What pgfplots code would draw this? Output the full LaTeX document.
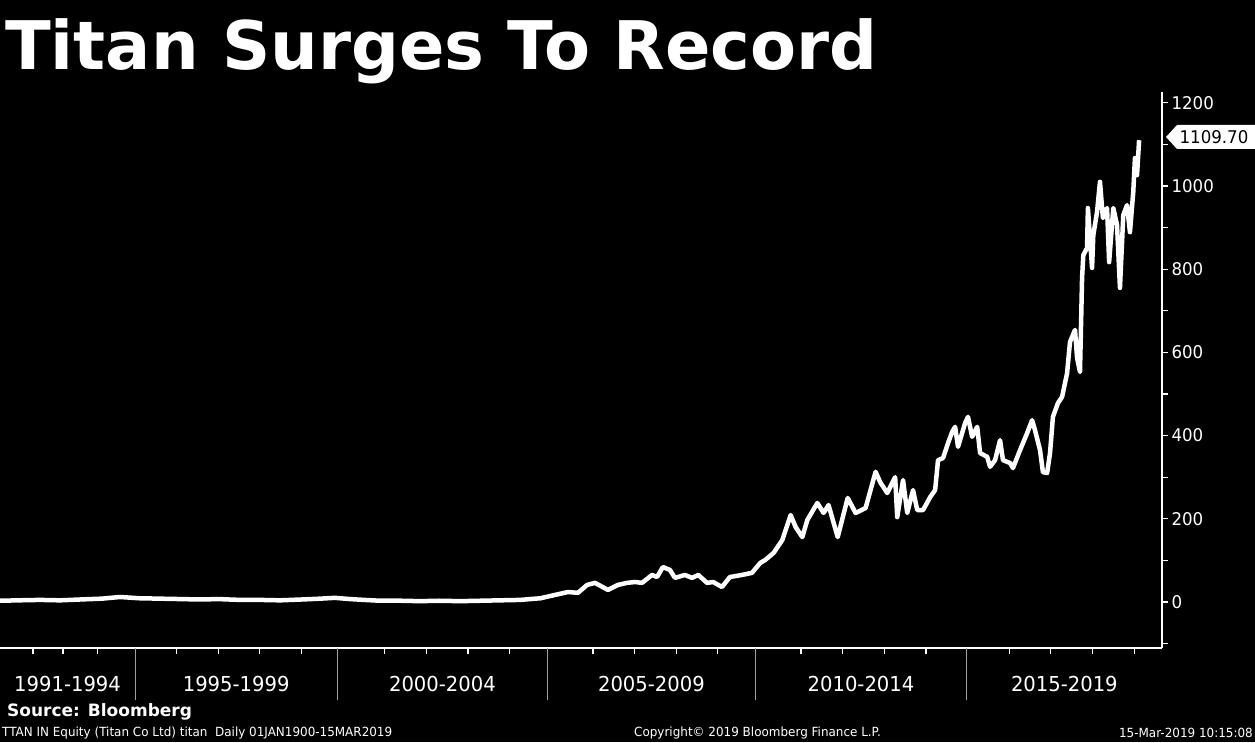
\documentclass[border=0pt]{standalone}
\usepackage{pgfplots}
\pgfplotsset{compat=1.18}
\usepackage{fontspec}
\setmainfont{DejaVu Sans}
\newfontfamily\cond[FakeStretch=0.95]{DejaVu Sans}
\begin{document}
\begin{tikzpicture}[x=1pt,y=1pt]
\useasboundingbox (0,0) rectangle (1255,742);
\fill[black] (0,0) rectangle (1255,742);
\begin{axis}[
 at={(0pt,94pt)}, anchor=south west,
 scale only axis, width=1162pt, height=556pt,
 xmin=1991.757, xmax=2019.67, ymin=-110.6, ymax=1225.9,
 axis x line=bottom, axis y line=right,
 axis line style={-, white, line width=1.2pt},
 clip=false,
 tick align=outside,
 major tick length=6pt, minor tick length=6pt,
 tick style={white, line width=1.2pt},
 xtick={1993.38,1997.43,2002.385,2007.405,2012.44,2017.325},
 xticklabels={1991-1994,1995-1999,2000-2004,2005-2009,2010-2014,2015-2019},
 major x tick style={draw=none},
 minor xtick={1992.55,1993.27,1994.09,1996,1997,1998,1999,2001,2002,2003,2004,2006,2007,2008,2009,2011,2012,2013,2014,2016,2017,2018,2019},
 extra x ticks={1995,1999.86,2004.91,2009.9,2014.98},
 extra x tick labels={},
 extra x tick style={major tick length=52pt, major x tick style={draw=gray!75, line width=0.8pt}},
 xticklabel style={font=\cond\fontsize{20.6}{24}\selectfont, text=white, yshift=-19pt},
 ytick={0,200,...,1200},
 minor ytick={-100,100,300,500,700,900,1100},
 yticklabel style={font=\cond\fontsize{17.5}{20}\selectfont, text=white},
 /pgf/number format/assume math mode=true,
 /pgf/number format/1000 sep={},
]
\addplot[white, line width=4.5pt, line join=round] table {
x y
1991.76 3
1992.20 4
1992.72 5
1993.20 4
1993.68 6
1994.20 8
1994.64 12
1995.10 9
1995.60 8
1996.10 7
1996.56 6
1997.00 7
1997.52 5
1998.00 5
1998.49 4
1999.00 6
1999.45 8
1999.80 10
2000.17 7
2000.50 5
2000.89 3
2001.40 3
2001.85 2
2002.30 3
2002.81 2
2003.30 3
2003.77 4
2004.25 5
2004.74 9
2005.09 17
2005.40 24
2005.64 22
2005.86 41
2006.05 46
2006.36 29
2006.60 41
2006.82 46
2007.01 48
2007.18 46
2007.42 65
2007.54 60
2007.68 84
2007.85 77
2007.97 58
2008.21 65
2008.38 58
2008.53 65
2008.74 46
2008.89 48
2009.10 36
2009.29 60
2009.58 65
2009.82 70
2010.02 94
2010.14 101
2010.34 118
2010.55 149
2010.75 209
2010.87 180
2011.03 156
2011.15 197
2011.39 238
2011.54 214
2011.66 233
2011.88 156
2012.12 250
2012.31 214
2012.55 226
2012.79 313
2012.90 288
2013.07 262
2013.26 300
2013.31 204
2013.45 293
2013.55 214
2013.69 269
2013.79 221
2013.93 221
2014.10 252
2014.22 269
2014.29 341
2014.41 346
2014.53 382
2014.63 409
2014.70 421
2014.77 373
2014.94 430
2015.01 445
2015.11 397
2015.23 421
2015.30 358
2015.47 349
2015.54 325
2015.66 341
2015.78 389
2015.85 341
2016.02 334
2016.09 322
2016.26 365
2016.43 406
2016.55 437
2016.62 413
2016.74 365
2016.81 312
2016.91 310
2016.98 358
2017.05 445
2017.17 478
2017.27 493
2017.39 550
2017.46 625
2017.58 654
2017.63 587
2017.70 553
2017.75 779
2017.78 834
2017.87 851
2017.89 947
2017.99 803
2018.02 882
2018.11 938
2018.18 1010
2018.25 923
2018.35 947
2018.40 817
2018.50 947
2018.59 906
2018.66 755
2018.74 930
2018.83 954
2018.90 889
2018.98 986
2019.02 1067
2019.07 1026
2019.12 1110
};
\end{axis}
\fill[white] (1166,605) -- (1177,617) -- (1255,617) -- (1255,593) -- (1177,593) -- cycle;
\node[text=black, font=\cond\fontsize{17.5}{20}\selectfont, inner sep=0] at (1214,605) {1109.70};
\node[anchor=base west, text=white, font=\fontsize{67}{80}\selectfont\bfseries, inner sep=0] at (5,672) {Titan Surges To Record};
\node[anchor=west, text=white, font=\fontsize{17}{20}\selectfont\bfseries, inner sep=0] at (7,30) {Source: Bloomberg};
\node[anchor=west, text=white, font=\cond\fontsize{12.6}{14}\selectfont, inner sep=0] at (2,9) {TTAN IN Equity (Titan Co Ltd) titan\ \ Daily 01JAN1900-15MAR2019};
\node[anchor=west, text=white, font=\cond\fontsize{12.6}{14}\selectfont, inner sep=0] at (634,9) {Copyright© 2019 Bloomberg Finance L.P.};
\node[anchor=east, text=white, font=\cond\fontsize{12.6}{14}\selectfont, inner sep=0] at (1253,9) {15-Mar-2019 10:15:08};
\end{tikzpicture}
\end{document}
